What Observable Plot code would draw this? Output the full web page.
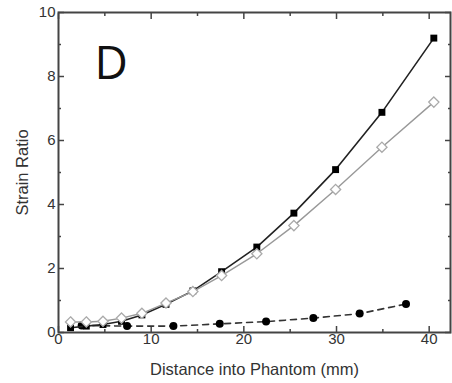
<!DOCTYPE html>
<html><head><meta charset="utf-8">
<script src="https://cdn.jsdelivr.net/npm/d3@7"></script>
<script src="https://cdn.jsdelivr.net/npm/@observablehq/plot@0.6"></script>
<style>body{margin:0;background:#fff}</style>
</head><body><div id="chart"></div>
<script>
const squareX = [1.3, 3.0, 4.8, 6.8, 9.0, 11.6, 14.5, 17.6, 21.4, 25.4, 29.9, 34.9, 40.5];
const squareY = [0.15, 0.2, 0.25, 0.35, 0.55, 0.88, 1.3, 1.9, 2.67, 3.73, 5.09, 6.88, 9.2];
const diamondX = [1.3, 3.0, 4.8, 6.8, 9.0, 11.6, 14.5, 17.6, 21.4, 25.4, 29.9, 34.9, 40.5];
const diamondY = [0.33, 0.33, 0.35, 0.45, 0.6, 0.92, 1.28, 1.78, 2.46, 3.34, 4.47, 5.79, 7.2];
const circleX = [2.5, 7.4, 12.4, 17.4, 22.4, 27.5, 32.5, 37.5];
const circleY = [0.22, 0.2, 0.2, 0.27, 0.34, 0.45, 0.59, 0.89];
const xMajor = [0, 10, 20, 30, 40];
const xMinor = [5, 15, 25, 35];
const yMajor = [0, 2, 4, 6, 8, 10];
const yMinor = [1, 3, 5, 7, 9];
const xLabel = "Distance into Phantom (mm)";
const yLabel = "Strain Ratio";
const panel = "D";

const sq = squareX.map((x, i) => ({x, y: squareY[i]}));
const di = diamondX.map((x, i) => ({x, y: diamondY[i]}));
const ci = circleX.map((x, i) => ({x, y: circleY[i]}));
const axc = "#444";

const chart = Plot.plot({
  width: 452, height: 383,
  marginLeft: 58, marginRight: 2, marginTop: 12, marginBottom: 51,
  style: {fontFamily: "Liberation Sans, Arial, sans-serif", fontSize: "14px", color: "#333", background: "#fff"},
  x: {domain: [0, 42.3]},
  y: {domain: [0, 10]},
  marks: [
    Plot.axisX({anchor: "bottom", ticks: xMajor, tickSize: -6, tickPadding: 7, stroke: axc, strokeWidth: 1.5, fontSize: 15, label: null}),
    Plot.axisX({anchor: "bottom", ticks: xMinor, tickSize: -3, text: null, stroke: axc, strokeWidth: 1.5, label: null}),
    Plot.axisX({anchor: "top", ticks: xMajor, tickSize: -6, text: null, stroke: axc, strokeWidth: 1.5, label: null}),
    Plot.axisX({anchor: "top", ticks: xMinor, tickSize: -3, text: null, stroke: axc, strokeWidth: 1.5, label: null}),
    Plot.axisY({anchor: "left", ticks: yMajor, tickSize: -6, tickPadding: 9, stroke: axc, strokeWidth: 1.5, fontSize: 15, label: null}),
    Plot.axisY({anchor: "left", ticks: yMinor, tickSize: -3, text: null, stroke: axc, strokeWidth: 1.5, label: null}),
    Plot.axisY({anchor: "right", ticks: yMajor, tickSize: -6, text: null, stroke: axc, strokeWidth: 1.5, label: null}),
    Plot.axisY({anchor: "right", ticks: yMinor, tickSize: -3, text: null, stroke: axc, strokeWidth: 1.5, label: null}),
    Plot.frame({stroke: axc, strokeWidth: 2}),
    Plot.text([xLabel], {frameAnchor: "bottom", dy: 42, fontSize: 16.5, fill: "#333"}),
    Plot.text([yLabel], {frameAnchor: "left", textAnchor: "middle", dx: -36, rotate: -90, fontSize: 16.5, fill: "#333"}),
    Plot.text([panel], {frameAnchor: "top-left", dx: 36, dy: 34, fontSize: 46, fontFamily: "Open Sans, sans-serif", fill: "#111"}),
    Plot.line(ci, {x: "x", y: "y", stroke: "#333", strokeWidth: 1.6, strokeDasharray: "6,5"}),
    Plot.dot(ci, {x: "x", y: "y", r: 4, fill: "#000", stroke: "none"}),
    Plot.line(sq, {x: "x", y: "y", stroke: "#222", strokeWidth: 1.6}),
    Plot.dot(sq, {x: "x", y: "y", symbol: "square", r: 3.9, fill: "#000", stroke: "none"}),
    Plot.line(di, {x: "x", y: "y", stroke: "#999", strokeWidth: 1.4}),
    Plot.dot(di, {x: "x", y: "y", symbol: "diamond2", r: 4.6, fill: "#fff", stroke: "#aaa", strokeWidth: 1.3})
  ]
});
document.getElementById("chart").append(chart);
</script></body></html>
